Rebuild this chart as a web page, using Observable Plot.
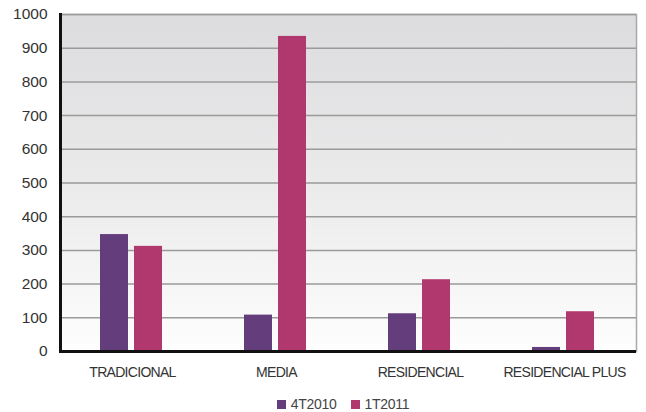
<!DOCTYPE html>
<html>
<head>
<meta charset="utf-8">
<script src="https://cdn.jsdelivr.net/npm/d3@7"></script>
<script src="https://cdn.jsdelivr.net/npm/@observablehq/plot@0.6"></script>
<style>
  html, body { margin: 0; padding: 0; background: #fff; }
  #chart { width: 646px; height: 412px; position: relative; }
  .legend { position: absolute; left: 0; width: 606px; padding-left: 40px; top: 396px; text-align: center;
    font-family: "Liberation Sans", Arial, sans-serif; font-size: 14px; letter-spacing: -0.3px; color: #444; white-space: nowrap; }
  .legend span.item { display: inline-block; margin: 0 7px; }
  .legend span.sw { display: inline-block; width: 9px; height: 9px; margin-right: 5px; vertical-align: 0px; }
</style>
</head>
<body>
<div id="chart"></div>
<script>
const categories = ["TRADICIONAL", "MEDIA", "RESIDENCIAL", "RESIDENCIAL PLUS"];
const seriesNames = ["4T2010", "1T2011"];
const values4T2010 = [347, 108, 112, 12];
const values1T2011 = [312, 935, 213, 118];
const seriesColors = ["#643d7d", "#b0386e"];
const yTicks = [0, 100, 200, 300, 400, 500, 600, 700, 800, 900, 1000];

const data = categories.map((c, i) => ({cat: c, a: values4T2010[i], b: values1T2011[i]}));

const plot = Plot.plot({
  width: 646,
  height: 388,
  marginLeft: 60,
  marginRight: 10,
  marginTop: 14,
  marginBottom: 37,
  style: {fontFamily: "'Liberation Sans', Arial, sans-serif", background: "transparent"},
  x: {domain: categories, paddingInner: 0, paddingOuter: 0, label: null, axis: null},
  y: {domain: [0, 1000], label: null, axis: null},
  marks: [
    Plot.frame({fill: "url(#bgGrad)", stroke: "#a8a8a8", strokeWidth: 1.5}),
    Plot.gridY(yTicks.filter(d => d > 0), {stroke: "#9a9a9a", strokeOpacity: 1, strokeWidth: 1.5}),
    Plot.barY(data, {x: "cat", y: "a", fill: seriesColors[0], insetLeft: 40, insetRight: 76}),
    Plot.barY(data, {x: "cat", y: "b", fill: seriesColors[1], insetLeft: 74, insetRight: 42}),
    Plot.frame({anchor: "left", stroke: "#111", strokeWidth: 3}),
    Plot.ruleY([0], {stroke: "#111", strokeWidth: 3}),
    Plot.axisY({ticks: yTicks, tickFormat: d => String(d), tickSize: 0, tickPadding: 13, fontSize: 15.5, fill: "#333", label: null}),
    Plot.axisX({tickSize: 0, tickPadding: 16, fontSize: 14, fill: "#333", label: null})
  ]
});

const svg = d3.select(plot);
svg.selectAll("[aria-label='x-axis tick label'] text").style("letter-spacing", "-0.7px");
const defs = svg.insert("defs", ":first-child");
const grad = defs.append("linearGradient").attr("id", "bgGrad")
  .attr("x1", 0).attr("y1", 0).attr("x2", 0).attr("y2", 1);
grad.append("stop").attr("offset", "0%").attr("stop-color", "#dcdcde");
grad.append("stop").attr("offset", "55%").attr("stop-color", "#ececed");
grad.append("stop").attr("offset", "100%").attr("stop-color", "#fefefe");

const chart = document.getElementById("chart");
chart.appendChild(plot);

const legend = document.createElement("div");
legend.className = "legend";
seriesNames.forEach((name, i) => {
  const item = document.createElement("span");
  item.className = "item";
  const sw = document.createElement("span");
  sw.className = "sw";
  sw.style.background = seriesColors[i];
  item.appendChild(sw);
  item.appendChild(document.createTextNode(name));
  legend.appendChild(item);
});
chart.appendChild(legend);
</script>
</body>
</html>
